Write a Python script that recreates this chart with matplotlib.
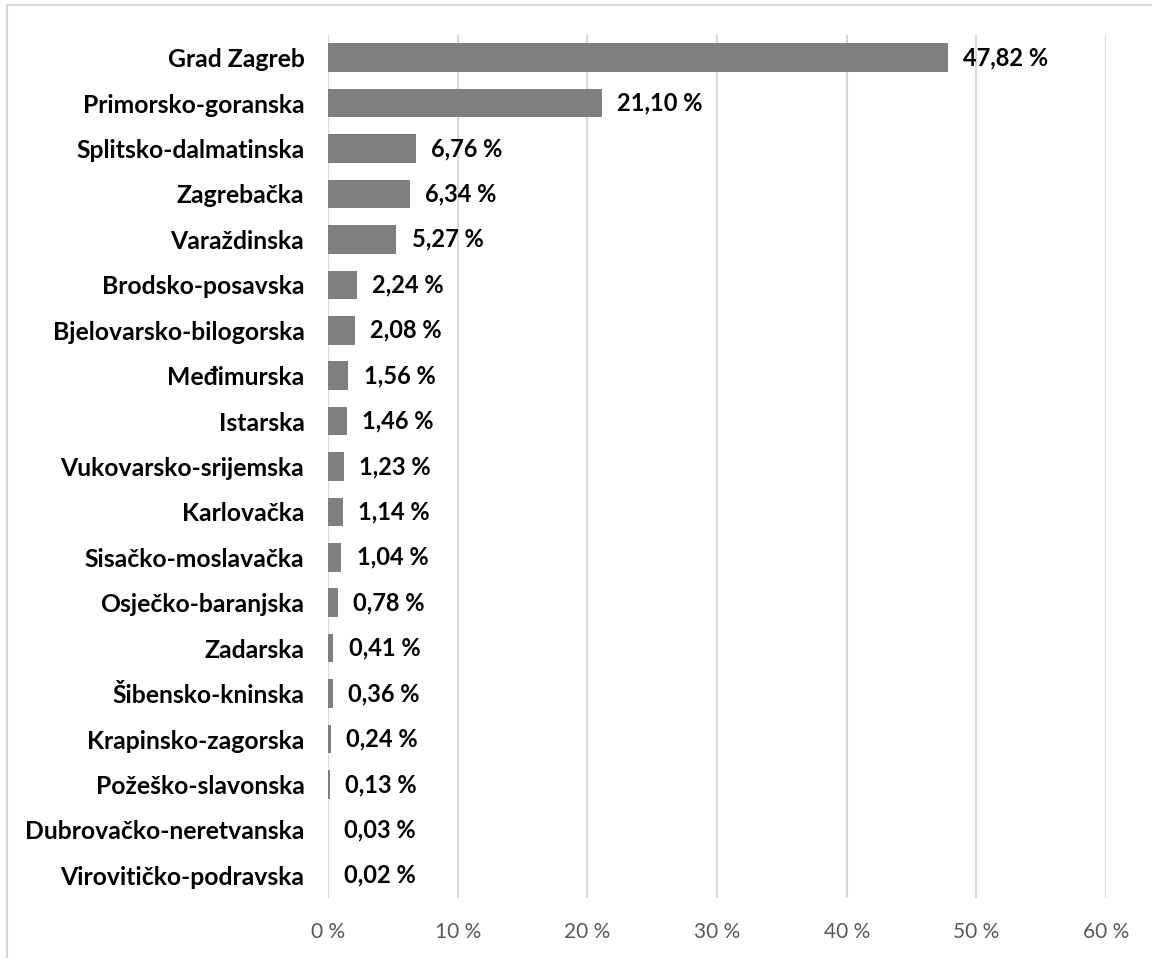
import matplotlib.pyplot as plt
from matplotlib.patches import Rectangle

counties = ["Grad Zagreb", "Primorsko-goranska", "Splitsko-dalmatinska", "Zagrebačka",
            "Varaždinska", "Brodsko-posavska", "Bjelovarsko-bilogorska", "Međimurska",
            "Istarska", "Vukovarsko-srijemska", "Karlovačka", "Sisačko-moslavačka",
            "Osječko-baranjska", "Zadarska", "Šibensko-kninska", "Krapinsko-zagorska",
            "Požeško-slavonska", "Dubrovačko-neretvanska", "Virovitičko-podravska"]
shares = [47.82, 21.10, 6.76, 6.34, 5.27, 2.24, 2.08, 1.56, 1.46, 1.23, 1.14, 1.04,
          0.78, 0.41, 0.36, 0.24, 0.13, 0.03, 0.02]
xticks = [0, 10, 20, 30, 40, 50, 60]

plt.rcParams['font.family'] = ['Lato', 'DejaVu Sans']

fig = plt.figure(figsize=(11.52, 9.58), dpi=100)
ax = fig.add_axes([328/1152, 1-898/958, (1106-328)/1152, (898-35)/958])

pos = list(range(len(counties)))
ax.barh(pos, shares, height=0.63, color='#7f7f7f', zorder=3)
ax.set_ylim(len(counties) - 0.5, -0.5)
ax.set_xlim(0, 60)

for p, v in zip(pos, shares):
    ax.annotate(f"{v:.2f} %".replace('.', ','), (v, p), xytext=(11, 0),
                textcoords='offset points', va='center', ha='left',
                fontsize=17, fontweight='bold', color='black')

ax.set_yticks(pos)
ax.set_yticklabels(counties, fontsize=17.8, fontweight='bold')
ax.set_xticks(xticks)
ax.set_xticklabels([f"{t} %" for t in xticks], fontsize=15, color='#595959')
ax.tick_params(axis='y', length=0, pad=17)
ax.tick_params(axis='x', length=0, pad=17)
ax.grid(axis='x', color='#d9d9d9', linewidth=1.5, zorder=0)
for s in ax.spines.values():
    s.set_visible(False)

# outer chart border
fig.patches.append(Rectangle((7/1152, -0.1), 1.2, 1-5/958 + 0.1, transform=fig.transFigure,
                             fill=False, edgecolor='#d9d9d9', linewidth=1.5))

fig.savefig("out.png", dpi=100)
